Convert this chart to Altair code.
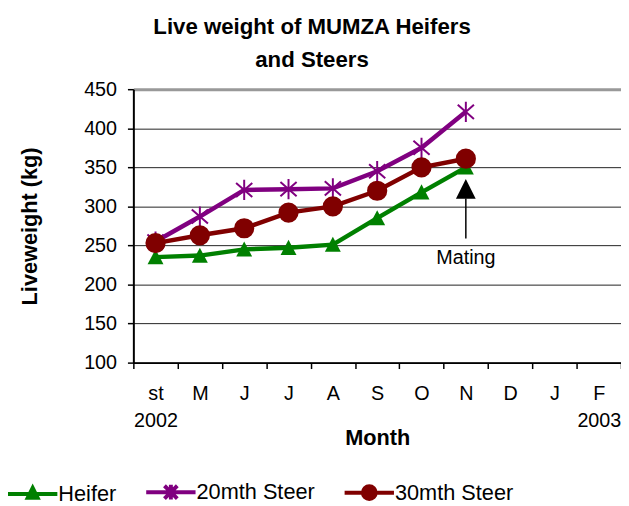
import json
import altair as alt
import pandas as pd

# ---- data ----
months = ["st", "M", "J", "J", "A", "S", "O", "N", "D", "J", "F"]
years = ["2002", "", "", "", "", "", "", "", "", "", "2003"]
series_names = ["Heifer", "20mth Steer", "30mth Steer"]
heifer = [235, 237, 245, 247, 251, 285, 318, 350]
steer20 = [255, 287, 321, 322, 323, 345, 375, 421]
steer30 = [253, 263, 272, 292, 300, 320, 350, 361]
colors = ["#008000", "#800080", "#800000"]

mating_month = [7]
mating_label = ["Mating"]
arrow_from = [259]
arrow_to = [310]
arrow_head = [322.5]
label_at = [234]

FONT = "Liberation Sans"

rows = []
for name, vals in zip(series_names, [heifer, steer20, steer30]):
    for i, v in enumerate(vals):
        rows.append({"idx": i, "series": name, "weight": v})
df = pd.DataFrame(rows)

ann = pd.DataFrame({
    "idx": mating_month, "weight": arrow_from, "y2": arrow_to,
    "head": arrow_head, "ty": label_at, "label": mating_label,
})

label_arrays = [[m, y] if y else [m] for m, y in zip(months, years)]
label_expr = json.dumps(label_arrays) + "[datum.value]"

x_axis = alt.Axis(
    title="Month", labelExpr=label_expr, labelAngle=0, tickBand="extent",
    labelFontSize=20, labelFont=FONT, labelColor="black", labelPadding=15,
    labelLineHeight=28, labelBaseline="top",
    titleFontSize=22, titleFont=FONT, titleFontWeight="bold", titleColor="black",
    titlePadding=-3, domainColor="black", domainWidth=2, tickColor="black",
    tickWidth=1.5, tickSize=6, grid=False,
)
x_scale = alt.Scale(type="band", domain=list(range(len(months))), paddingInner=0, paddingOuter=0)

y_axis = alt.Axis(
    title="Liveweight (kg)", values=list(range(100, 451, 50)),
    labelFontSize=20, labelFont=FONT, labelColor="black", labelPadding=11,
    titleFontSize=22, titleFont=FONT, titleFontWeight="bold", titleColor="black",
    titlePadding=43, domainColor="black", domainWidth=2, tickColor="black",
    tickWidth=1.5, tickSize=6, grid=True,
    gridColor={"condition": {"test": "datum.value === 450", "value": "#999999"}, "value": "#222222"},
    gridWidth={"condition": {"test": "datum.value === 450", "value": 3}, "value": 1},
)
y_scale = alt.Scale(domain=[100, 450], nice=False, zero=False)

X = alt.X("idx:O", scale=x_scale, axis=x_axis)
Y = alt.Y("weight:Q", scale=y_scale, axis=y_axis)
# line/marker colour scale (listed in reverse so its disabled legend stays separate from the real one)
color_scale = alt.Scale(domain=series_names[::-1], range=colors[::-1])
C = alt.Color("series:N", scale=color_scale, legend=None)

base = alt.Chart(df)

lines = base.mark_line(strokeWidth=4.5).encode(x=X, y=Y, color=C)

TRI = "M0,-1L1,0.9L-1,0.9Z"
AST = "M0,-1V1M-0.8,-0.7L0.8,0.7M-0.8,0.7L0.8,-0.7"

pts_h = base.transform_filter(alt.datum.series == "Heifer").mark_point(
    shape=TRI, filled=True, size=260, opacity=1).encode(x=X, y=Y, color=C)
pts_20 = base.transform_filter(alt.datum.series == "20mth Steer").mark_point(
    shape=AST, filled=False, size=420, strokeWidth=2, opacity=1).encode(x=X, y=Y, color=C)
pts_30 = base.transform_filter(alt.datum.series == "30mth Steer").mark_circle(
    size=420, opacity=1).encode(x=X, y=Y, color=C)

# legend symbols: a 50px line with the series marker (unit = 10px at symbolSize 400)
legend_paths = [
    "M-2.5,0H2.5M0,-0.6L0.5,0.4L-0.5,0.4Z",
    "M-2.5,0H2.5M0,-0.75V0.75M-0.65,-0.65L0.65,0.65M-0.65,0.65L0.65,-0.65",
    "M-2.5,0H2.5M-0.65,0A0.65,0.65,0,1,1,0.65,0A0.65,0.65,0,1,1,-0.65,0Z",
]
leg = alt.Legend(
    title=None, orient="none", legendX=-114, legendY=396, direction="horizontal",
    columns=3, columnPadding=22, symbolSize=400, symbolStrokeWidth=4,
    symbolOpacity=1, labelFontSize=22, labelFont=FONT, labelColor="black",
    labelOffset=14,
)
legend_layer = base.mark_point(size=0, filled=True, strokeWidth=0).encode(
    x=X, y=Y,
    fill=alt.Fill("series:N", scale=alt.Scale(domain=series_names, range=colors), legend=leg),
    stroke=alt.Stroke("series:N", scale=alt.Scale(domain=series_names, range=colors), legend=leg),
    shape=alt.Shape("series:N", scale=alt.Scale(domain=series_names, range=legend_paths), legend=leg),
)

abase = alt.Chart(ann)
rule = abase.mark_rule(color="black", strokeWidth=1.5).encode(x=X, y=Y, y2="y2:Q")
head = abase.mark_point(shape="M0,-1L1,1L-1,1Z", filled=True, color="black", size=400, opacity=1).encode(
    x=X, y=alt.Y("head:Q", scale=y_scale, axis=y_axis))
text = abase.mark_text(fontSize=20, font=FONT, color="black", baseline="middle", align="center").encode(
    x=X, y=alt.Y("ty:Q", scale=y_scale, axis=y_axis), text="label:N")

chart = alt.layer(lines, pts_h, pts_20, pts_30, legend_layer, rule, head, text).properties(
    width=494, height=277,
    autosize=alt.AutoSizeParams(type="none"),
    padding={"left": 127, "top": 79, "right": 0, "bottom": 142},
    title=alt.TitleParams(
        ["Live weight of MUMZA Heifers", "and Steers"], fontSize=22.5, font=FONT,
        fontWeight="bold", color="black", anchor="middle", dx=-66, lineHeight=33, offset=8,
    ),
).configure_view(stroke="transparent")

chart.save("out.html", embed_options={"renderer": "svg", "actions": False})
